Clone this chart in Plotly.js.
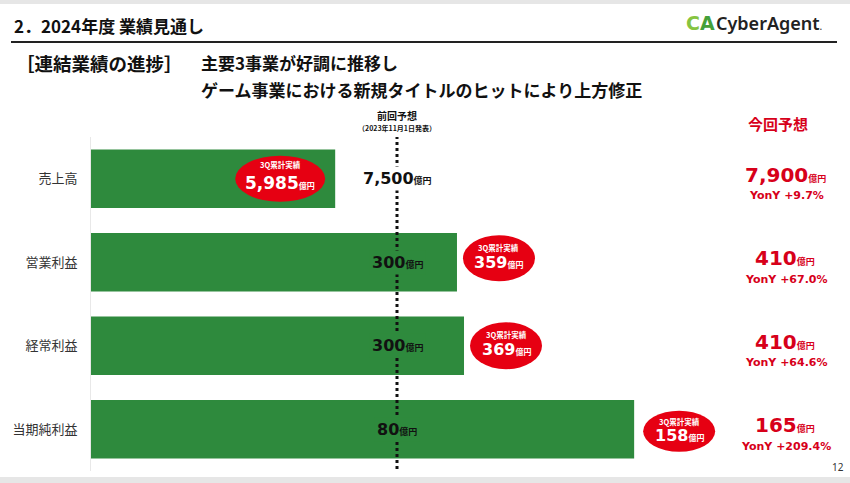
<!DOCTYPE html>
<html>
<head>
<meta charset="utf-8">
<script src="https://cdn.plot.ly/plotly-3.0.1.min.js"></script>
<style>html,body{margin:0;padding:0;background:#fff;}#chart{width:850px;height:483px;}</style>
</head>
<body>
<div id="chart"></div>
<script>
// ---- data ----
const categories = ['売上高', '営業利益', '経常利益', '当期純利益'];
const barProgress = [79.8, 119.6, 121.9, 177.5];      // bar length as drawn (% of previous forecast line)
const prevForecast = ['7,500', '300', '300', '80'];   // 前回予想 (億円)
const actual3Q = ['5,985', '359', '369', '158'];      // 3Q累計実績 (億円)
const newForecast = ['7,900', '410', '410', '165'];   // 今回予想 (億円)
const yoy = ['+9.7%', '+67.0%', '+64.6%', '+209.4%'];
const baseline = 100;                                  // 前回予想 line

// ---- layout helpers ----
const W = 850, H = 483;
const M = {l: 91, r: 25, t: 137, b: 12};
const PW = W - M.l - M.r, PH = H - M.t - M.b;
const px = x => (x - M.l) / PW;
const py = y => (H - M.b - y) / PH;

const GREEN = '#2e8a3d';
const RED = '#e60012';
const RED_TXT = '#d7001a';
const JP = 'Noto Sans CJK JP';
const NUM = 'DejaVu Sans, Noto Sans CJK JP';

const yIdx = categories.map((c, i) => i);

const ell = {dx: [-55, 42, 42, 45], dy: [0, 4, 0, -2], rx: [45, 36, 36, 36], ry: [23, 23, 23.5, 20.5], lab: [14, 11, 11, 10]};

const trace = {
  type: 'bar', orientation: 'h',
  x: barProgress, y: yIdx,
  width: 0.7,
  marker: {color: GREEN},
  hoverinfo: 'skip'
};

const shapes = [
  {type: 'rect', xref: 'paper', yref: 'paper', x0: px(0), x1: px(W), y0: py(0), y1: py(4), fillcolor: '#e6e6e6', line: {width: 0}, layer: 'below'},
  {type: 'rect', xref: 'paper', yref: 'paper', x0: px(0), x1: px(W), y0: py(477), y1: py(H), fillcolor: '#e6e6e6', line: {width: 0}, layer: 'below'},
  {type: 'line', xref: 'paper', yref: 'paper', x0: px(11), x1: px(837), y0: py(42), y1: py(42), line: {color: '#222', width: 2}},
  {type: 'line', xref: 'x', yref: 'paper', x0: baseline, x1: baseline, y0: py(469), y1: py(137), line: {color: '#111', width: 3, dash: 'dot'}}
];

categories.forEach((c, i) => {
  shapes.push({
    type: 'circle', xref: 'x', yref: 'y',
    xsizemode: 'pixel', ysizemode: 'pixel',
    xanchor: barProgress[i], yanchor: i,
    x0: ell.dx[i] - ell.rx[i], x1: ell.dx[i] + ell.rx[i],
    y0: ell.dy[i] - ell.ry[i], y1: ell.dy[i] + ell.ry[i],
    fillcolor: RED, line: {width: 0}
  });
});

const annotations = [
  {xref: 'paper', yref: 'paper', x: px(12), y: py(25), xanchor: 'left', yanchor: 'middle', showarrow: false,
   text: '<b>2．2024年度 業績見通し</b>', font: {family: JP, size: 17, color: '#111'}},
  {xref: 'paper', yref: 'paper', x: px(684), y: py(23), xanchor: 'left', yanchor: 'middle', showarrow: false,
   text: '<b><span style="color:#86c440">C</span><span style="color:#45a03a">A</span></b>', font: {family: 'DejaVu Sans', size: 19}},
  {xref: 'paper', yref: 'paper', x: px(714), y: py(23), xanchor: 'left', yanchor: 'middle', showarrow: false,
   text: 'CyberAgent<span style="font-size:8px">.</span>', font: {family: 'Noto Sans', size: 18, color: '#222', weight: 600}},
  {xref: 'paper', yref: 'paper', x: px(14), y: py(63), xanchor: 'left', yanchor: 'middle', showarrow: false,
   text: '<b>［連結業績の進捗］</b>', font: {family: JP, size: 18.5, color: '#111'}},
  {xref: 'paper', yref: 'paper', x: px(199), y: py(63), xanchor: 'left', yanchor: 'middle', showarrow: false,
   text: '<b>主要3事業が好調に推移し</b>', font: {family: JP, size: 17, color: '#111'}},
  {xref: 'paper', yref: 'paper', x: px(199), y: py(89), xanchor: 'left', yanchor: 'middle', showarrow: false,
   text: '<b>ゲーム事業における新規タイトルのヒットにより上方修正</b>', font: {family: JP, size: 17, color: '#111'}},
  {xref: 'x', yref: 'paper', x: baseline, y: py(115), xanchor: 'center', yanchor: 'middle', showarrow: false,
   text: '<b>前回予想</b>', font: {family: JP, size: 10, color: '#111'}},
  {xref: 'x', yref: 'paper', x: baseline, y: py(128), xanchor: 'center', yanchor: 'middle', showarrow: false,
   text: '<b>（2023年11月1日発表）</b>', font: {family: JP, size: 7, color: '#111'}},
  {xref: 'paper', yref: 'paper', x: px(778), y: py(124), xanchor: 'center', yanchor: 'middle', showarrow: false,
   text: '<b>今回予想</b>', font: {family: JP, size: 15, color: RED_TXT}},
  {xref: 'paper', yref: 'paper', x: px(838), y: py(467), xanchor: 'center', yanchor: 'middle', showarrow: false,
   text: '12', font: {family: 'Noto Sans', size: 10, color: '#333'}}
];

categories.forEach((c, i) => {
  // previous forecast label on the dotted line
  annotations.push({
    xref: 'x', yref: 'y', x: baseline, y: i, xanchor: 'center', yanchor: 'middle', showarrow: false,
    text: '<b>' + prevForecast[i] + '<span style="font-size:9px">億円</span></b>',
    font: {family: NUM, size: 16, color: '#111'},
    bgcolor: barProgress[i] > baseline ? GREEN : '#ffffff', borderpad: 2
  });
  // 3Q actual inside red ellipse
  annotations.push({
    xref: 'x', yref: 'y', x: barProgress[i], y: i, xshift: ell.dx[i], yshift: ell.dy[i] + ell.lab[i],
    xanchor: 'center', yanchor: 'middle', showarrow: false,
    text: '<b>3Q累計実績</b>', font: {family: JP, size: 7.5, color: '#fff'}
  });
  annotations.push({
    xref: 'x', yref: 'y', x: barProgress[i], y: i, xshift: ell.dx[i], yshift: ell.dy[i] - 4,
    xanchor: 'center', yanchor: 'middle', showarrow: false,
    text: '<b>' + actual3Q[i] + '<span style="font-size:8px">億円</span></b>',
    font: {family: NUM, size: i === 0 ? 17 : 16, color: '#fff'}
  });
  // new forecast on the right
  annotations.push({
    xref: 'paper', yref: 'y', x: px(785), y: i, yshift: 4, xanchor: 'center', yanchor: 'middle', showarrow: false,
    text: '<b>' + newForecast[i] + '<span style="font-size:9px">億円</span></b>',
    font: {family: NUM, size: 20, color: RED_TXT}
  });
  annotations.push({
    xref: 'paper', yref: 'y', x: px(786), y: i, yshift: -17, xanchor: 'center', yanchor: 'middle', showarrow: false,
    text: '<b>YonY ' + yoy[i] + '</b>', font: {family: NUM, size: 11, color: RED_TXT}
  });
});

const layout = {
  width: W, height: H,
  margin: M,
  paper_bgcolor: '#ffffff', plot_bgcolor: '#ffffff',
  showlegend: false,
  xaxis: {range: [0, PW / 3.06], visible: false, fixedrange: true},
  yaxis: {
    range: [3.5, -0.5], tickvals: yIdx, ticktext: categories,
    ticks: '', showgrid: false, zeroline: false,
    showline: true, linecolor: '#e8e8e8', linewidth: 1,
    ticklabelstandoff: 10,
    tickfont: {family: JP, size: 13, color: '#333'}, fixedrange: true
  },
  shapes: shapes,
  annotations: annotations
};

Plotly.newPlot('chart', [trace], layout, {displayModeBar: false, staticPlot: true});
</script>
</body>
</html>
